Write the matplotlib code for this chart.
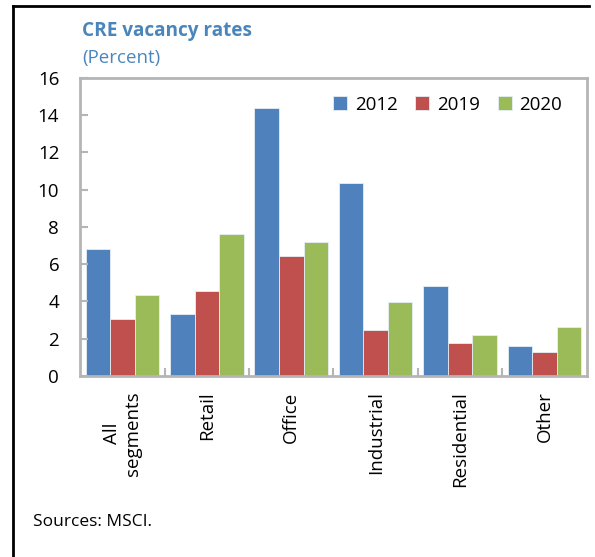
import matplotlib.pyplot as plt
import numpy as np
from matplotlib.lines import Line2D

plt.rcParams['font.family'] = ['Open Sans', 'DejaVu Sans']

categories = ["All\nsegments", "Retail", "Office", "Industrial", "Residential", "Other"]
years = ["2012", "2019", "2020"]
v2012 = [6.8, 3.35, 14.4, 10.35, 4.85, 1.6]
v2019 = [3.05, 4.55, 6.45, 2.45, 1.75, 1.3]
v2020 = [4.35, 7.6, 7.2, 3.95, 2.2, 2.65]
colors = ["#4F81BD", "#C0504D", "#9BBB59"]

fig = plt.figure(figsize=(5.95, 5.57), dpi=100)
ax = fig.add_axes([0.1345, 0.325, 0.852, 0.535])

x = np.arange(len(categories))
w = 0.29
for i, vals in enumerate([v2012, v2019, v2020]):
    ax.bar(x + (i - 1) * w, vals, width=w, color=colors[i], label=years[i],
           edgecolor="#E6EEF5", linewidth=0.6)

ax.set_xlim(-0.5, 5.5)
ax.set_ylim(0, 16)
ax.set_yticks(range(0, 17, 2))
ax.tick_params(axis="y", direction="in", length=6, width=1.5, color="#B5B5B5",
               labelsize=13.5, pad=15)
ax.set_xticks(np.arange(0.5, 5, 1))
ax.set_xticklabels([])
ax.tick_params(axis="x", which="major", direction="in", length=6, width=1.5, color="#B5B5B5")
ax.set_xticks(x, minor=True)
ax.set_xticklabels(categories, minor=True, rotation=90, fontsize=13.5,
                   va="top", ha="center", multialignment="center")
ax.tick_params(axis="x", which="minor", length=0, pad=11)
for s in ax.spines.values():
    s.set_color("#B5B5B5")
    s.set_linewidth(2)

ax.legend(loc="upper right", bbox_to_anchor=(0.984, 0.997), ncol=3, frameon=False,
          fontsize=13.5, handlelength=0.75, handleheight=0.75, handletextpad=0.4,
          columnspacing=0.95)

fig.text(0.138, 0.944, "CRE vacancy rates", color="#4A86BC", fontsize=13.7,
         fontweight="bold", va="center")
fig.text(0.138, 0.895, "(Percent)", color="#4A86BC", fontsize=13.5, va="center")
fig.text(0.055, 0.062, "Sources: MSCI.", fontsize=12.5, va="center")

fig.add_artist(Line2D([0.022, 0.99], [0.9895, 0.9895], color="black", linewidth=2))
fig.add_artist(Line2D([0.0225, 0.0225], [0.0, 0.9895], color="black", linewidth=2))

fig.savefig("out.png", dpi=100)
